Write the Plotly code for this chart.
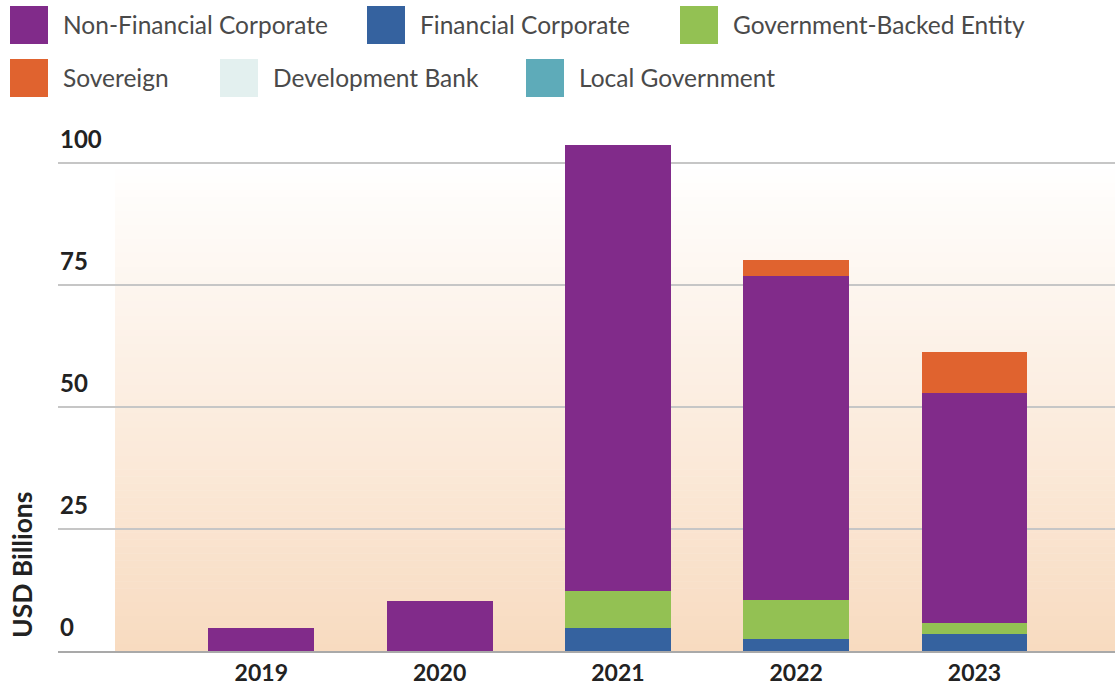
import plotly.graph_objects as go

# Issuance by issuer type, USD billions
years = ["2019", "2020", "2021", "2022", "2023"]
non_financial_corporate = [4.8, 10.2, 91.4, 66.3, 47.2]
financial_corporate = [0.0, 0.0, 4.7, 2.4, 3.5]
government_backed_entity = [0.0, 0.0, 7.5, 8.1, 2.2]
sovereign = [0.0, 0.0, 0.0, 3.4, 8.3]
development_bank = [0.0, 0.0, 0.0, 0.0, 0.0]
local_government = [0.0, 0.0, 0.0, 0.0, 0.0]

y_ticks = [0, 25, 50, 75, 100]
y_title = "USD Billions"

COLORS = {
    "Non-Financial Corporate": "#812b8a",
    "Financial Corporate": "#35629f",
    "Government-Backed Entity": "#93c153",
    "Sovereign": "#e0632f",
    "Development Bank": "#e3f0ef",
    "Local Government": "#5eabb9",
}

# stacking order, bottom to top
stack = [
    ("Financial Corporate", financial_corporate),
    ("Government-Backed Entity", government_backed_entity),
    ("Non-Financial Corporate", non_financial_corporate),
    ("Sovereign", sovereign),
    ("Development Bank", development_bank),
    ("Local Government", local_government),
]

W, H = 1115, 688
ML, MR, MT, MB = 58, 0, 130, 37
PW, PH = W - ML - MR, H - MT - MB
PX_PER_UNIT = 4.88


def px_x(px):
    return (px - ML) / PW


def px_y(py):
    return (H - MB - py) / PH


FONT = "Lato"

fig = go.Figure()
for name, vals in stack:
    fig.add_trace(go.Bar(
        x=years, y=vals, name=name, width=0.594,
        marker=dict(color=COLORS[name], line=dict(width=0)),
        showlegend=False,
    ))

shapes = []
annotations = []

# soft vertical gradient behind the bars
top_rgb, bot_rgb = (255, 255, 255), (248, 219, 192)
g_top, g_bot, n_bands = 162, H - MB, 70
for k in range(n_bands):
    t = (k + 0.5) / n_bands
    c = tuple(round(top_rgb[j] + (bot_rgb[j] - top_rgb[j]) * t) for j in range(3))
    y0 = g_top + (g_bot - g_top) * k / n_bands
    y1 = g_top + (g_bot - g_top) * (k + 1) / n_bands
    shapes.append(dict(
        type="rect", xref="paper", yref="paper", layer="below",
        x0=px_x(115), x1=1.0, y0=px_y(y1 + 0.5), y1=px_y(y0),
        fillcolor="rgb(%d,%d,%d)" % c, line=dict(width=0),
    ))

# y tick labels sit above their gridlines
for v in y_ticks:
    annotations.append(dict(
        x=0, xref="paper", y=v, yref="y", xanchor="left", yanchor="middle",
        yshift=25, text=str(v), showarrow=False,
        font=dict(family=FONT, size=24, color="#222222", weight="bold"),
    ))

annotations.append(dict(
    x=px_x(22), xref="paper", y=px_y(565), yref="paper",
    text=y_title, textangle=-90, showarrow=False,
    xanchor="center", yanchor="middle",
    font=dict(family=FONT, size=26.5, color="#222222", weight="bold"),
))

# legend: large square swatches in two rows
legend_items = [
    ("Non-Financial Corporate", 10, 25),
    ("Financial Corporate", 367, 25),
    ("Government-Backed Entity", 680, 25),
    ("Sovereign", 10, 78),
    ("Development Bank", 220, 78),
    ("Local Government", 526, 78),
]
SW = 38
for name, sx, cy in legend_items:
    shapes.append(dict(
        type="rect", xref="paper", yref="paper",
        x0=px_x(sx), x1=px_x(sx + SW), y0=px_y(cy + SW / 2), y1=px_y(cy - SW / 2),
        fillcolor=COLORS[name], line=dict(width=0),
    ))
    annotations.append(dict(
        x=px_x(sx + SW + 13), xref="paper", y=px_y(cy), yref="paper",
        xanchor="left", yanchor="middle", text=name, showarrow=False,
        font=dict(family=FONT, size=24.5, color="#4a4a4a"),
    ))

fig.update_layout(
    width=W, height=H,
    margin=dict(l=ML, r=MR, t=MT, b=MB, pad=0, autoexpand=False),
    barmode="stack",
    plot_bgcolor="rgba(0,0,0,0)",
    paper_bgcolor="white",
    shapes=shapes,
    annotations=annotations,
    showlegend=False,
    bargap=0,
)
fig.update_xaxes(
    type="category", range=[-1.1402, 4.788], automargin=False,
    showgrid=False, showline=True, linecolor="#a9a9a9", linewidth=2,
    ticks="",
    tickfont=dict(family=FONT, size=23, color="#222222", weight="bold"),
)
fig.update_yaxes(
    range=[0, PH / PX_PER_UNIT], tickvals=y_ticks, showticklabels=False,
    automargin=False,
    showgrid=True, gridcolor="#c6c6c6", gridwidth=1.5, zeroline=False,
)

fig.write_html("out.html")
